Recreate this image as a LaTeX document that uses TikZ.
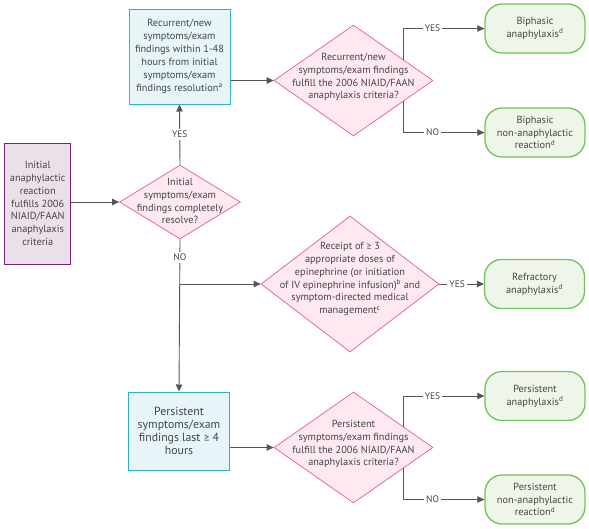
\documentclass[tikz,border=0pt]{standalone}
\usepackage{fontspec}
\setmainfont{PT Sans}
\newfontfamily\geqfont{Carlito}
\usepackage{xcolor}
\usepackage{tikz}
\usetikzlibrary{arrows.meta}
\usetikzlibrary{calc}
\usetikzlibrary{shapes.geometric}
\definecolor{ink}{HTML}{454547}
\definecolor{linegray}{HTML}{555555}
\definecolor{startline}{HTML}{7C2170}
\definecolor{startfill}{HTML}{EBDFE9}
\definecolor{boxline}{HTML}{2AB3C9}
\definecolor{boxfill}{HTML}{E7F5F9}
\definecolor{qline}{HTML}{EC6A8C}
\definecolor{qfill}{HTML}{FDE9EE}
\definecolor{endline}{HTML}{72C25A}
\definecolor{endfill}{HTML}{EEF6E9}
\newcommand\fn[1]{\textsuperscript{#1}}
\newcommand\atleast{{\geqfont ≥}}
\tikzstyle{txt}=[text=ink,align=center,font=\fontsize{10.3}{12.9}\selectfont]
\tikzstyle{start}=[txt,draw=startline,fill=startfill,line width=1pt,minimum width=66pt,minimum height=121pt]
\tikzstyle{stepbox}=[txt,draw=boxline,fill=boxfill,line width=1pt,minimum width=101pt]
\tikzstyle{question}=[draw=qline,fill=qfill,line width=.8pt,shape=diamond,inner sep=0pt]
\tikzstyle{outcome}=[txt,draw=endline,fill=endfill,line width=1.3pt,rounded corners=17pt,minimum width=100pt,minimum height=49pt]
\tikzstyle{lab}=[fill=white,text=ink,font=\fontsize{9.5}{10}\selectfont,inner sep=2pt]
\tikzstyle{flow}=[draw=linegray,line width=.9pt,-{Triangle[length=7pt,width=6.5pt]}]

\begin{document}
\begin{tikzpicture}[x=1pt,y=-1pt]
	\useasboundingbox (0,0) rectangle (589,528);
	\node[start] (init) at (37.7,203.5) {Initial\\anaphylactic\\reaction\\fulfills 2006\\NIAID/FAAN\\anaphylaxis\\criteria};
	\node[question,minimum width=121pt,minimum height=74pt] (q1) at (180,202) {};
	\node[txt] (q1t) at (180,201) {Initial\\symptoms/exam\\findings completely\\resolve?};
	\node[stepbox,minimum height=95pt] (rec) at (179.5,56.5) {Recurrent/new\\symptoms/exam\\findings within 1-48\\hours from initial\\symptoms/exam\\findings resolution\fn{a}};
	\node[question,minimum width=159pt,minimum height=111pt] (q2) at (353.5,80.5) {};
	\node[txt] (q2t) at (353.5,77) {Recurrent/new\\symptoms/exam findings\\fulfill the 2006 NIAID/FAAN\\anaphylaxis criteria?};
	\node[outcome] (bi1) at (535,28.5) {Biphasic\\anaphylaxis\fn{d}};
	\node[outcome] (bi2) at (535,132.5) {Biphasic\\non-anaphylactic\\reaction\fn{d}};
	\node[question,minimum width=178pt,minimum height=136pt] (q3) at (350,284) {};
	\node[txt] (q3t) at (350,279) {Receipt of \atleast{} 3\\appropriate doses of\\epinephrine (or initiation\\of IV epinephrine infusion)\fn{b} and\\symptom-directed medical\\management\fn{c}};
	\node[outcome] (ref) at (534.5,284) {Refractory\\anaphylaxis\fn{d}};
	\node[stepbox,minimum height=78pt,font=\fontsize{11.8}{12.9}\selectfont] (per) at (179,431) {Persistent\\symptoms/exam\\findings last \atleast{} 4\\hours};
	\node[question,minimum width=159pt,minimum height=111pt] (q4) at (353.5,447.5) {};
	\node[txt] (q4t) at (353.5,444) {Persistent\\symptoms/exam findings\\fulfill the 2006 NIAID/FAAN\\anaphylaxis criteria?};
	\node[outcome] (pe1) at (535,396) {Persistent\\anaphylaxis\fn{d}};
	\node[outcome] (pe2) at (535,499.5) {Persistent\\non-anaphylactic\\reaction\fn{d}};

	\draw[flow] (init.east |- q1.west) -- (q1.west);
	\draw[flow] (q1.north) --node[lab]{YES} (rec.south);
	\draw[flow] (q1.south) --node[lab,pos=.12]{NO} (per.north);
	\draw[flow] (q1.south |- q3.west) -- (q3.west);
	\draw[flow] (rec.east |- q2.west) -- (q2.west);
	\draw[flow] ($(q2.north)!.625!(q2.east)$) |- node[lab,pos=.68]{YES} (bi1.west);
	\draw[flow] ($(q2.south)!.625!(q2.east)$) |- node[lab,pos=.68]{NO} (bi2.west);
	\draw[flow] (q3.east) --node[lab,pos=.4]{YES} (ref.west);
	\draw[flow] (per.east |- q4.west) -- (q4.west);
	\draw[flow] ($(q4.north)!.625!(q4.east)$) |- node[lab,pos=.68]{YES} (pe1.west);
	\draw[flow] ($(q4.south)!.625!(q4.east)$) |- node[lab,pos=.68]{NO} (pe2.west);
\end{tikzpicture}
\end{document}
